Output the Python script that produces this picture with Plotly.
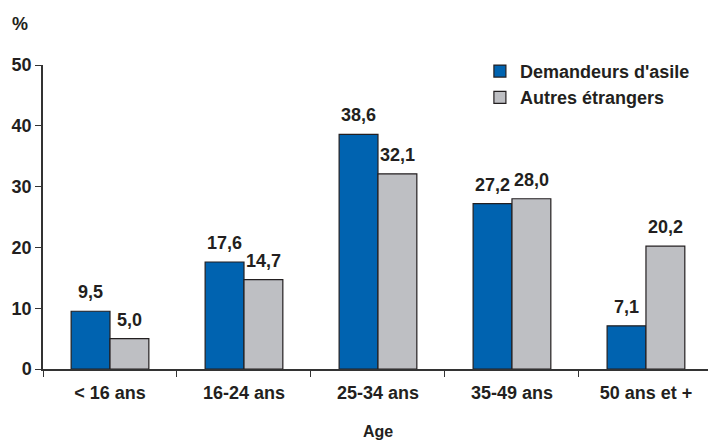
import plotly.graph_objects as go

categories = ["< 16 ans", "16-24 ans", "25-34 ans", "35-49 ans", "50 ans et +"]
demandeurs = [9.5, 17.6, 38.6, 27.2, 7.1]
autres = [5.0, 14.7, 32.1, 28.0, 20.2]
series_names = ["Demandeurs d'asile", "Autres étrangers"]
y_ticks = [0, 10, 20, 30, 40, 50]

BLUE = "#0063B0"
GRAY = "#BEBFC3"
FONT = "Liberation Sans, Arial, sans-serif"
TXT = "#231f20"
FS = 18

fig = go.Figure()
fig.add_trace(go.Bar(x=categories, y=demandeurs, name=f"<b>{series_names[0]}</b>",
                     marker=dict(color=BLUE, line=dict(color="#231f20", width=1.2))))
fig.add_trace(go.Bar(x=categories, y=autres, name=f"<b>{series_names[1]}</b>",
                     marker=dict(color=GRAY, line=dict(color="#231f20", width=1.2))))

def fmt(v):
    return f"{v:.1f}".replace(".", ",")

ann = []
for i, v in enumerate(demandeurs):
    ann.append(dict(x=i - 0.145, y=v, xref="x", yref="y", text=f"<b>{fmt(v)}</b>",
                    showarrow=False, yanchor="bottom", yshift=7,
                    font=dict(family=FONT, size=FS, color=TXT)))
for i, v in enumerate(autres):
    ann.append(dict(x=i + 0.145, y=v, xref="x", yref="y", text=f"<b>{fmt(v)}</b>",
                    showarrow=False, yanchor="bottom", yshift=7,
                    font=dict(family=FONT, size=FS, color=TXT)))
ann.append(dict(x=-0.035, y=1.135, xref="paper", yref="paper", text="<b>%</b>",
                showarrow=False, xanchor="center", yanchor="middle",
                font=dict(family=FONT, size=FS, color=TXT)))
ann.append(dict(x=2, y=-0.207, xref="x", yref="paper", text="<b>Age</b>",
                showarrow=False, xanchor="center", yanchor="middle",
                font=dict(family=FONT, size=16, color=TXT)))

fig.update_layout(
    width=708, height=440,
    margin=dict(l=43, r=0, t=65, b=71),
    paper_bgcolor="white", plot_bgcolor="white",
    barmode="group", bargap=0.42, bargroupgap=0,
    font=dict(family=FONT, size=FS, color=TXT),
    showlegend=True,
    legend=dict(x=0.657, y=1.04, xanchor="left", yanchor="top",
                bgcolor="rgba(0,0,0,0)", font=dict(family=FONT, size=FS, color=TXT),
                itemwidth=30, tracegroupgap=0),
    annotations=ann,
    xaxis=dict(type="category", range=[-0.5, 4.463], showgrid=False,
               showline=True, linecolor="#333333", linewidth=1.5,
               ticks="outside", tickson="boundaries", ticklen=6, tickcolor="#333333",
               ticklabelstandoff=7,
               tickfont=dict(family=FONT, size=FS, color=TXT),
               tickvals=categories, ticktext=[f"<b>{c}</b>" for c in categories]),
    yaxis=dict(range=[0, 50], showgrid=False, zeroline=False,
               showline=True, linecolor="#333333", linewidth=1.5,
               ticks="outside", ticklen=6, tickcolor="#333333",
               tickvals=y_ticks, ticktext=[f"<b>{t}</b>" for t in y_ticks],
               tickfont=dict(family=FONT, size=FS, color=TXT)),
)

fig.write_html("out.html", config={"displayModeBar": False},
               post_script="document.body.style.margin='0';document.body.style.overflow='hidden';")
